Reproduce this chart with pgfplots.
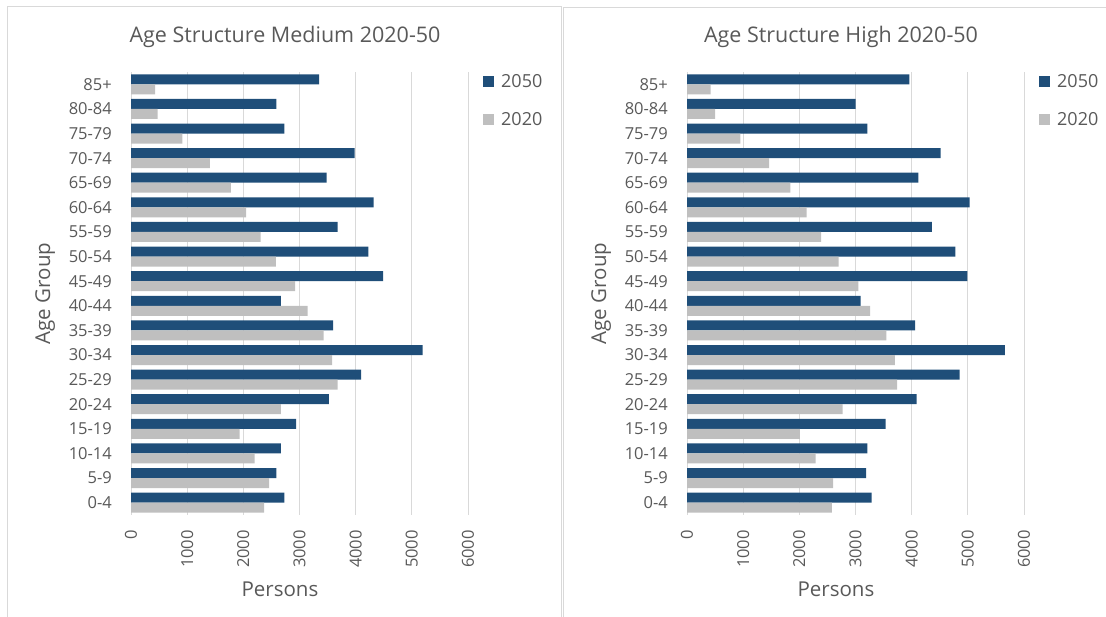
\documentclass[border=0pt]{standalone}
\usepackage{pgfplots}
\pgfplotsset{compat=1.18}
\usepackage{pgfplotstable}
\usepackage{fontspec}
\setmainfont{Open Sans}
\definecolor{barblue}{HTML}{1F4E79}
\definecolor{bargray}{HTML}{BFBFBF}
\definecolor{txt}{HTML}{595959}
\definecolor{gridc}{HTML}{D9D9D9}
\definecolor{framec}{HTML}{D9D9D9}

% idx 0 = 0-4 ... idx 17 = 85+
\pgfplotstableread{
idx y2050 y2020
0 2730 2370
1 2590 2460
2 2670 2200
3 2940 1935
4 3525 2670
5 4095 3680
6 5190 3580
7 3600 3430
8 2670 3145
9 4490 2920
10 4225 2580
11 3680 2310
12 4320 2050
13 3485 1780
14 3980 1405
15 2730 915
16 2590 475
17 3350 430
}\medium

\pgfplotstableread{
idx y2050 y2020
0 3285 2580
1 3190 2600
2 3210 2290
3 3535 2010
4 4090 2770
5 4855 3740
6 5660 3700
7 4060 3550
8 3090 3260
9 4990 3050
10 4780 2700
11 4360 2390
12 5030 2130
13 4120 1840
14 4515 1460
15 3210 950
16 3000 500
17 3960 420
}\high

\pgfplotsset{agestyle/.style={
  scale only axis, width=337pt, height=443pt, anchor=south west,
  xbar, bar width=10pt,
  xmin=0, xmax=6000, ymin=-0.5, ymax=17.5,
  xtick={0,1000,...,6000}, ytick={0,...,17},
  yticklabels={0-4,5-9,10-14,15-19,20-24,25-29,30-34,35-39,40-44,45-49,50-54,55-59,60-64,65-69,70-74,75-79,80-84,85+},
  scaled x ticks=false,
  /pgf/number format/1000 sep={},
  /pgf/number format/assume math mode=true,
  xmajorgrids, major grid style={draw=gridc, line width=1pt},
  axis line style={draw=none},
  major tick length=0pt,
  tick style={draw=none},
  xticklabel style={rotate=90, anchor=east, inner sep=0pt, font=\fontsize{16.5}{19}\selectfont, text=txt},
  xticklabel shift=15pt,
  yticklabel style={anchor=east, inner sep=0pt, font=\fontsize{16.5}{19}\selectfont, text=txt},
  yticklabel shift=19pt,
  every axis title/.style={at={(axis description cs:0.457,1.0655)}, anchor=base, inner sep=0pt, font=\fontsize{21.5}{25}\selectfont, text=txt},
  xlabel style={at={(axis description cs:0.442,-0.1844)}, anchor=base, inner sep=0pt, font=\fontsize{20.5}{24}\selectfont, text=txt},
  ylabel style={at={(axis description cs:-0.255,0.5)}, anchor=center, inner sep=0pt, font=\fontsize{20.5}{24}\selectfont, text=txt},
  xlabel={Persons}, ylabel={Age Group},
  legend style={draw=none, fill=none, at={(axis description cs:1.0445,0.995)}, anchor=north west,
    font=\fontsize{18}{22}\selectfont, text=txt, inner sep=0pt, row sep=23pt, column sep=0pt,
    nodes={inner sep=0pt, anchor=west}},
  legend cell align=left,
  legend image code/.code={\fill[##1] (0pt,-5.5pt) rectangle (11pt,5.5pt);},
  clip=false,
}}

\begin{document}
\begin{tikzpicture}[x=1pt,y=1pt]
\path[use as bounding box] (0,0) rectangle (1106,617);
\draw[framec, line width=1pt] (7,-10) -- (7,610) -- (561,610) -- (561,-10);
\draw[framec, line width=1pt] (563,-10) -- (563,609) -- (1115,609);

\begin{axis}[agestyle, at={(131pt,102pt)}, title={Age Structure Medium 2020-50}]
\addplot[fill=barblue, draw=none, bar shift=5pt] table[x=y2050, y=idx] {\medium};
\addlegendentry{\hspace{7pt}2050}
\addplot[fill=bargray, draw=none, bar shift=-5pt] table[x=y2020, y=idx] {\medium};
\addlegendentry{\hspace{7pt}2020}
\end{axis}

\begin{axis}[agestyle, at={(687pt,102pt)}, title={Age Structure High 2020-50}]
\addplot[fill=barblue, draw=none, bar shift=5pt] table[x=y2050, y=idx] {\high};
\addlegendentry{\hspace{7pt}2050}
\addplot[fill=bargray, draw=none, bar shift=-5pt] table[x=y2020, y=idx] {\high};
\addlegendentry{\hspace{7pt}2020}
\end{axis}
\end{tikzpicture}
\end{document}
